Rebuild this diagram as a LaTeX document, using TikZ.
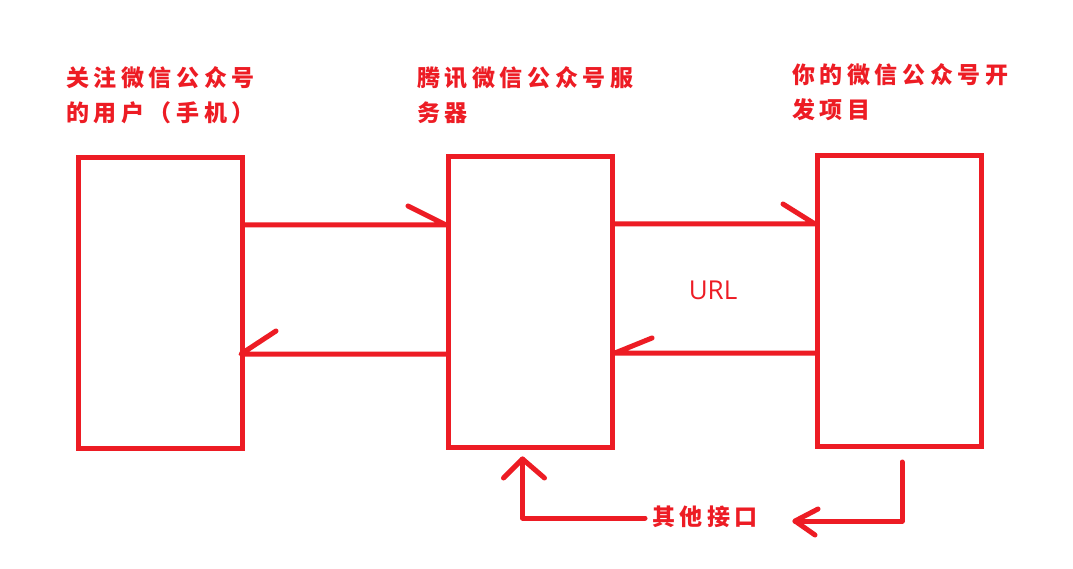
\documentclass[tikz,border=0pt]{standalone}
\usepackage{fontspec}
\usetikzlibrary{calc}
\newfontfamily\cjk[LetterSpace=20]{Noto Sans CJK SC}
\newfontfamily\urlfont{Open Sans}
\definecolor{paintred}{HTML}{ED1C24}
\begin{document}
\begin{tikzpicture}[x=1pt,y=-1pt,
  box/.style={draw=paintred,line width=5pt,rectangle,inner sep=0pt,minimum width=164pt,minimum height=291pt},
  conn/.style={draw=paintred,line width=5pt,line cap=round,line join=round},
  lbl/.style={text=paintred,inner sep=0pt,align=left,font=\cjk\bfseries\fontsize{23}{35}\selectfont},
  urllbl/.style={text=paintred,inner sep=0pt,font=\urlfont\fontsize{26}{30}\selectfont}]
\useasboundingbox[fill=white] (0,0) rectangle (1073,569);
% boxes
\node[box] (b1) at (160.5,303) {};
\node[box] (b2) at (530.5,302) {};
\node[box] (b3) at (899.5,301) {};
% titles
\node[lbl,anchor=base west] (t1) at (66,122) {关注微信公众号\\的用户（手机）};
\node[lbl,anchor=base west] (t2) at (417,122) {腾讯微信公众号服\\务器};
\node[lbl,anchor=base west] (t3) at (792,119) {你的微信公众号开\\发项目};
\node[urllbl] (url) at (713,290) {URL};
\node[lbl,anchor=west] (other) at (652,517) {其他接口};
% connectors
\draw[conn] (b1.east |- 0,225) -- (b2.west |- 0,225) -- ++(-38,-19);
\draw[conn] (b2.west |- 0,354) -- ($(b1.east |- 0,354)+(-4,0)$) -- ++(35,-23);
\draw[conn] (b2.east |- 0,224) -- (b3.west |- 0,224) -- ++(-32,-20);
\draw[conn] (b3.west |- 0,353) -- (b2.east |- 0,353) -- ++(37,-15);
% other interfaces
\coordinate (up) at ($(b2.south)+(-8,9)$);
\draw[conn] (other.west) ++(-7,1) -- (up |- 0,518) -- (up);
\draw[conn] ($(up)+(-19,19)$) -- (up) -- ++(22,19);
\coordinate (down) at ($(b3.south)+(2.5,13)$);
\coordinate (left) at ($(down |- 0,521)+(-107,0)$);
\draw[conn] (down) -- (down |- 0,521) -- (left);
\draw[conn] ($(left)+(23,-12)$) -- (left) -- ++(20,14);
\end{tikzpicture}
\end{document}
